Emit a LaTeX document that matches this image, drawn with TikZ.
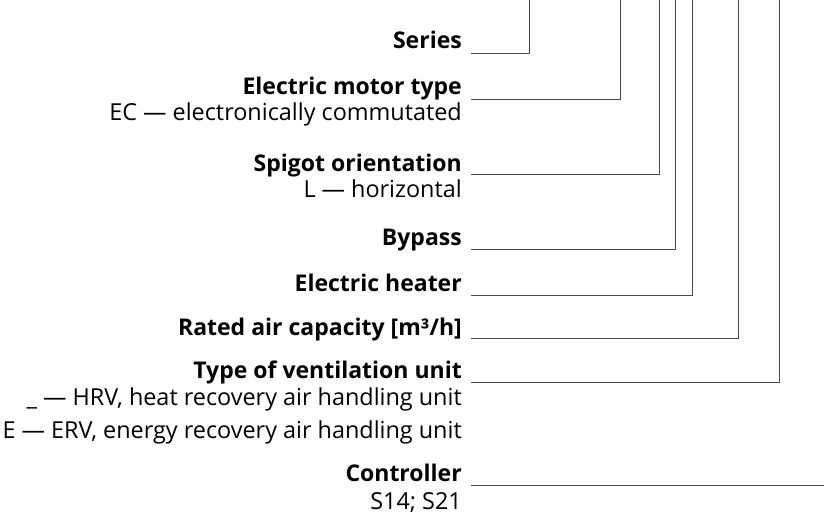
\documentclass[tikz,border=0pt]{standalone}
\usepackage{fontspec}
\setmainfont{Open Sans}
\usetikzlibrary{positioning}
\definecolor{leadgray}{HTML}{4a4a4a}

\begin{document}
\begin{tikzpicture}[
    x=1pt, y=-1pt,
    lbl/.style={anchor=base east, inner sep=0pt,
                font=\bfseries\fontsize{23}{26}\selectfont},
    sub/.style={anchor=base east, inner sep=0pt,
                font=\fontsize{23.4}{26}\selectfont},
    lead/.style={draw=leadgray, line width=0.9pt}
]
\useasboundingbox (0,0) rectangle (824,516);

% labels of the code positions
\node[lbl] (series)  at (462,49)  {Series};
\node[lbl] (motor)   at (462,95)  {Electric motor type};
\node[sub] (motorEC) at (462,121) {EC — electronically commutated};
\node[lbl] (spigot)  at (462,171) {Spigot orientation};
\node[sub] (spigotL) at (462,197) {L — horizontal};
\node[lbl] (bypass)  at (462,245) {Bypass};
\node[lbl] (heater)  at (462,291) {Electric heater};
\node[lbl] (rated)   at (462,335) {Rated air capacity [m³/h]};
\node[lbl] (unit)    at (462,378) {Type of ventilation unit};
\node[sub] (unitHRV) at (462,405) {\_ — HRV, heat recovery air handling unit};
\node[sub] (unitERV) at (462,438) {E — ERV, energy recovery air handling unit};
\node[lbl] (ctrl)    at (462,481) {Controller};
\node[sub] (ctrlS)   at (462,509) {S14; S21};

% taps under the designation
\coordinate (tapseries) at (529,0);
\coordinate (tapmotor)  at (620,0);
\coordinate (tapspigot) at (659,0);
\coordinate (tapbypass) at (675,0);
\coordinate (tapheater) at (692,0);
\coordinate (taprated)  at (738,0);
\coordinate (tapunit)   at (779,0);
\coordinate (ctrlend)   at (824,485);

\draw[lead] ([xshift=9pt,yshift=-4pt]series.base east) -| (tapseries);
\draw[lead] ([xshift=9pt,yshift=-4pt]motor.base east)  -| (tapmotor);
\draw[lead] ([xshift=9pt,yshift=-3.5pt]spigot.base east) -| (tapspigot);
\draw[lead] ([xshift=9pt,yshift=-4pt]bypass.base east) -| (tapbypass);
\draw[lead] ([xshift=9pt,yshift=-4pt]heater.base east) -| (tapheater);
\draw[lead] ([xshift=9pt,yshift=-3.5pt]rated.base east) -| (taprated);
\draw[lead] ([xshift=9pt,yshift=-4pt]unit.base east)   -| (tapunit);
\draw[lead] ([xshift=9pt,yshift=-4pt]ctrl.base east)   -- (ctrlend);
\end{tikzpicture}
\end{document}
